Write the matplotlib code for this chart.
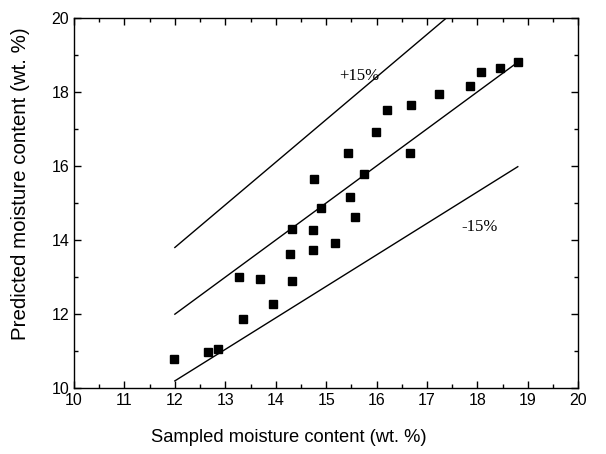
import matplotlib
matplotlib.use("Agg")
import matplotlib.pyplot as plt
import numpy as np
from matplotlib.ticker import MultipleLocator

# Sampled (x) vs predicted (y) moisture content, wt. %
sampled = [11.99, 12.65, 12.86, 13.36, 13.28, 13.68, 13.95, 14.32, 14.29, 14.33,
           14.74, 14.74, 14.76, 14.89, 15.18, 15.47, 15.57, 15.76, 15.43, 16.67,
           15.99, 16.20, 16.69, 17.23, 17.85, 18.07, 18.45, 18.81]
predicted = [10.79, 10.99, 11.06, 11.87, 13.01, 12.95, 12.27, 12.90, 13.63, 14.29,
             13.74, 14.27, 15.65, 14.87, 13.91, 15.17, 14.61, 15.77, 16.36, 16.34,
             16.92, 17.52, 17.64, 17.94, 18.17, 18.53, 18.63, 18.80]

# reference lines: y = x, +15 %, -15 %
x_start, x_end = 12.0, 18.8
upper_end = 20 / 1.15

fig = plt.figure(figsize=(6.06, 4.54), dpi=100)
ax = fig.add_axes([0.1221, 0.1447, 0.8322, 0.8163])

ax.plot([x_start, x_end], [x_start, x_end], color="black", lw=1)
ax.plot([x_start, upper_end], [1.15 * x_start, 1.15 * upper_end], color="black", lw=1)
ax.plot([x_start, x_end], [0.85 * x_start, 0.85 * x_end], color="black", lw=1)

ax.plot(sampled, predicted, "s", color="black", markersize=6.2, linestyle="none")

ax.text(15.65, 18.43, "+15%", family="Liberation Serif", fontsize=12,
        ha="center", va="center")
ax.text(18.04, 14.34, "-15%", family="Liberation Serif", fontsize=12,
        ha="center", va="center")

ax.set_xlim(10, 20)
ax.set_ylim(10, 20)
ax.xaxis.set_major_locator(MultipleLocator(1))
ax.xaxis.set_minor_locator(MultipleLocator(0.5))
ax.yaxis.set_major_locator(MultipleLocator(2))
ax.yaxis.set_minor_locator(MultipleLocator(1))
ax.tick_params(which="both", direction="in", top=True, right=True, width=1)
ax.tick_params(which="major", length=5, labelsize=11.5)
ax.tick_params(which="minor", length=3)
for lab in ax.get_xticklabels() + ax.get_yticklabels():
    lab.set_family("Liberation Sans")
for s in ax.spines.values():
    s.set_linewidth(1)

ax.set_xlabel("Sampled moisture content (wt. %)", family="Liberation Sans",
              fontsize=13.2)
ax.set_ylabel("Predicted moisture content (wt. %)", family="Liberation Sans",
              fontsize=14.8)
# label centres (pixels -> figure coords)
ax.xaxis.set_label_coords(289 / 606, 1 - 438 / 454, transform=fig.transFigure)
ax.yaxis.set_label_coords(21 / 606, 1 - 184 / 454, transform=fig.transFigure)
ax.xaxis.label.set_va("center")
ax.yaxis.label.set_va("center")

fig.savefig("out.png", dpi=100)
